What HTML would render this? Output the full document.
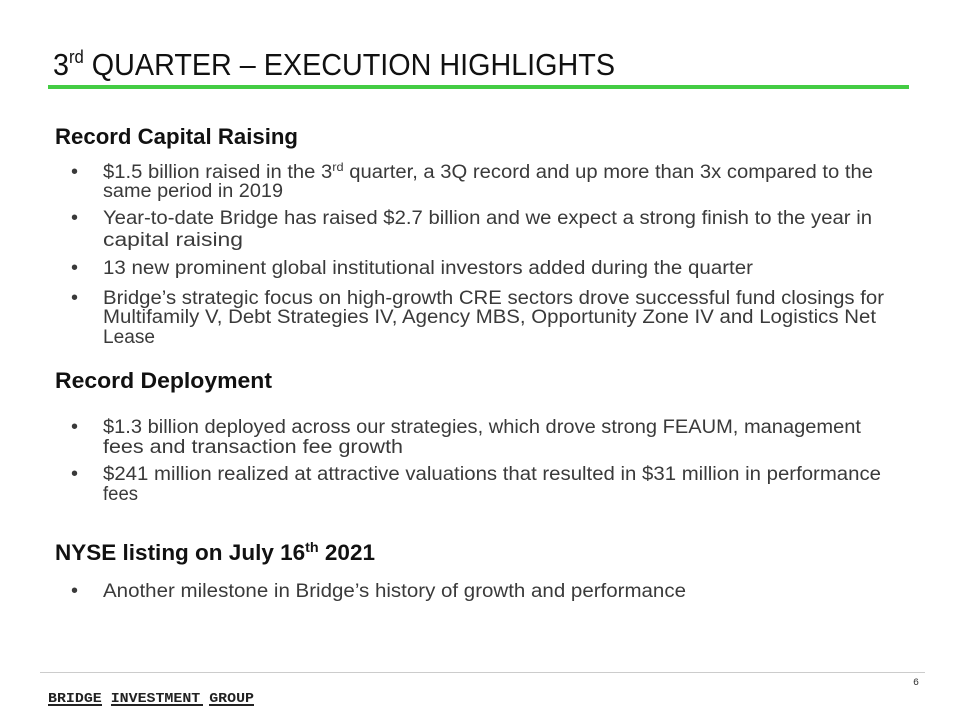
<!DOCTYPE html>
<html><head><meta charset="utf-8"><style>
html,body{margin:0;padding:0;background:#fff;width:960px;height:720px;overflow:hidden}
svg{display:block}
.b{font-family:"Liberation Sans",sans-serif;font-size:19px;fill:#3a3a3a}
.h{font-family:"Liberation Sans",sans-serif;font-size:22px;font-weight:bold;fill:#111}
.d{font-family:"Liberation Sans",sans-serif;font-size:20px;fill:#3a3a3a}
</style></head><body>
<svg width="960" height="720" xmlns="http://www.w3.org/2000/svg">
<text x="53" y="75" font-family="Liberation Sans,sans-serif" font-size="31" fill="#111" textLength="562" lengthAdjust="spacingAndGlyphs">3<tspan font-size="18" dy="-12">rd</tspan><tspan dy="12"> QUARTER – EXECUTION HIGHLIGHTS</tspan></text>
<rect x="48" y="85" width="861" height="4" fill="#44cc44"/>
<text class="h" x="55" y="144" textLength="243" lengthAdjust="spacingAndGlyphs">Record Capital Raising</text>
<g class="d"><text x="71" y="178">•</text><text x="71" y="224">•</text><text x="71" y="274">•</text><text x="71" y="304">•</text><text x="71" y="433">•</text><text x="71" y="480">•</text><text x="71" y="597">•</text></g>
<text class="b" x="103" y="178" textLength="770" lengthAdjust="spacingAndGlyphs">$1.5 billion raised in the 3<tspan font-size="12" dy="-7">rd</tspan><tspan dy="7"> quarter, a 3Q record and up more than 3x compared to the</tspan></text>
<text class="b" x="103" y="197" textLength="180" lengthAdjust="spacingAndGlyphs">same period in 2019</text>
<text class="b" x="103" y="224" textLength="769" lengthAdjust="spacingAndGlyphs">Year-to-date Bridge has raised $2.7 billion and we expect a strong finish to the year in</text>
<text class="b" x="103" y="246" textLength="140" lengthAdjust="spacingAndGlyphs">capital raising</text>
<text class="b" x="103" y="274" textLength="650" lengthAdjust="spacingAndGlyphs">13 new prominent global institutional investors added during the quarter</text>
<text class="b" x="103" y="304" textLength="781" lengthAdjust="spacingAndGlyphs">Bridge’s strategic focus on high-growth CRE sectors drove successful fund closings for</text>
<text class="b" x="103" y="323" textLength="773" lengthAdjust="spacingAndGlyphs">Multifamily V, Debt Strategies IV, Agency MBS, Opportunity Zone IV and Logistics Net</text>
<text class="b" x="103" y="343" textLength="52" lengthAdjust="spacingAndGlyphs">Lease</text>
<text class="h" x="55" y="388" textLength="217" lengthAdjust="spacingAndGlyphs">Record Deployment</text>
<text class="b" x="103" y="433" textLength="758" lengthAdjust="spacingAndGlyphs">$1.3 billion deployed across our strategies, which drove strong FEAUM, management</text>
<text class="b" x="103" y="453" textLength="300" lengthAdjust="spacingAndGlyphs">fees and transaction fee growth</text>
<text class="b" x="103" y="480" textLength="778" lengthAdjust="spacingAndGlyphs">$241 million realized at attractive valuations that resulted in $31 million in performance</text>
<text class="b" x="103" y="500" textLength="35" lengthAdjust="spacingAndGlyphs">fees</text>
<text class="h" x="55" y="560" textLength="320" lengthAdjust="spacingAndGlyphs">NYSE listing on July 16<tspan font-size="14" dy="-8">th</tspan><tspan dy="8"> 2021</tspan></text>
<text class="b" x="103" y="597" textLength="583" lengthAdjust="spacingAndGlyphs">Another milestone in Bridge’s history of growth and performance</text>
<rect x="40" y="672" width="885" height="1" fill="#ccc"/>
<text x="913" y="685" font-family="Liberation Mono,monospace" font-size="10" fill="#333">6</text>
<text x="48" y="702" font-family="Liberation Mono,monospace" font-size="14" font-weight="bold" fill="#222" textLength="206" lengthAdjust="spacingAndGlyphs">BRIDGE INVESTMENT GROUP</text>
<g fill="#222"><rect x="48" y="704" width="54" height="2"/><rect x="111" y="704" width="92" height="2"/><rect x="209" y="704" width="45" height="2"/></g>
</svg>
</body></html>
